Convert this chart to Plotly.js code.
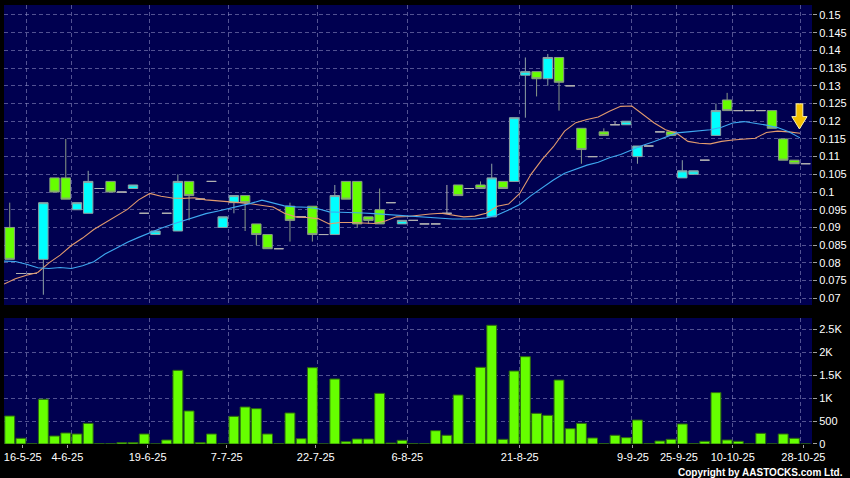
<!DOCTYPE html>
<html><head><meta charset="utf-8">
<script src="https://cdn.plot.ly/plotly-3.0.1.min.js"></script>
<style>html,body{margin:0;padding:0;background:#000;}#chart{width:850px;height:478px;}</style>
</head><body><div id="chart"></div>
<script>
// ---- data ----
const openP  = [0.090,0.077,0.077,0.081,0.104,0.104,0.095,0.094,0.101,0.103,0.100,0.101,0.094,0.088,0.094,0.089,0.103,0.098,0.103,0.090,0.097,0.099,0.091,0.088,0.084,0.096,0.093,0.096,0.088,0.088,0.103,0.103,0.093,0.095,0.097,0.091,0.092,0.091,0.091,0.094,0.102,0.101,0.102,0.093,0.103,0.103,0.133,0.134,0.132,0.138,0.130,0.118,0.110,0.117,0.119,0.119,0.110,0.113,0.117,0.117,0.104,0.105,0.109,0.116,0.126,0.123,0.123,0.123,0.123,0.115,0.109,0.108];
const highP  = [0.097,0.077,0.077,0.097,0.104,0.115,0.097,0.106,0.101,0.103,0.100,0.102,0.094,0.089,0.094,0.105,0.103,0.098,0.103,0.093,0.099,0.099,0.091,0.088,0.084,0.097,0.093,0.096,0.088,0.102,0.103,0.103,0.093,0.101,0.097,0.092,0.092,0.091,0.091,0.102,0.102,0.101,0.103,0.108,0.103,0.121,0.138,0.134,0.139,0.138,0.130,0.118,0.110,0.118,0.120,0.120,0.113,0.113,0.117,0.117,0.109,0.106,0.109,0.125,0.128,0.123,0.123,0.123,0.123,0.115,0.109,0.108];
const lowP   = [0.081,0.077,0.077,0.071,0.100,0.098,0.095,0.094,0.101,0.100,0.100,0.101,0.094,0.088,0.094,0.089,0.092,0.098,0.103,0.090,0.094,0.089,0.085,0.084,0.084,0.086,0.093,0.086,0.088,0.088,0.098,0.090,0.091,0.091,0.097,0.091,0.092,0.091,0.091,0.094,0.099,0.101,0.101,0.093,0.101,0.103,0.121,0.127,0.130,0.123,0.130,0.108,0.110,0.116,0.119,0.119,0.108,0.113,0.117,0.116,0.104,0.105,0.109,0.116,0.123,0.123,0.123,0.123,0.118,0.109,0.108,0.108];
const closeP = [0.081,0.077,0.077,0.097,0.100,0.098,0.097,0.103,0.101,0.100,0.100,0.102,0.094,0.089,0.094,0.103,0.099,0.098,0.103,0.093,0.099,0.097,0.088,0.084,0.084,0.092,0.093,0.088,0.088,0.099,0.098,0.091,0.092,0.091,0.097,0.092,0.092,0.091,0.091,0.094,0.099,0.101,0.101,0.104,0.101,0.121,0.134,0.132,0.138,0.131,0.130,0.112,0.110,0.116,0.119,0.120,0.113,0.113,0.117,0.116,0.106,0.106,0.109,0.123,0.123,0.123,0.123,0.123,0.118,0.109,0.108,0.108];
const volumeK = [610,124,3,975,174,240,218,450,4,4,30,30,218,0,87,1606,720,30,218,0,603,807,770,218,4,676,116,1664,0,1417,51,109,109,1104,20,80,4,4,290,190,1068,0,1672,2588,102,1591,1904,668,625,1395,334,450,131,4,190,138,523,4,65,102,436,4,58,1120,87,58,0,232,0,218,124,0];
const maShort = [0.0740,0.0755,0.0765,0.0773,0.0800,0.0822,0.0849,0.0870,0.0894,0.0913,0.0930,0.0951,0.0978,0.0996,0.0988,0.0983,0.0982,0.0984,0.0978,0.0976,0.0973,0.0970,0.0967,0.0963,0.0958,0.0940,0.0930,0.0928,0.0925,0.0910,0.0914,0.0914,0.0913,0.0911,0.0918,0.0930,0.0931,0.0935,0.0938,0.0940,0.0935,0.0930,0.0932,0.0940,0.0960,0.0966,0.0996,0.1050,0.1092,0.1128,0.1172,0.1196,0.1205,0.1212,0.1228,0.1242,0.1243,0.1220,0.1195,0.1176,0.1166,0.1143,0.1138,0.1136,0.1143,0.1147,0.1149,0.1152,0.1168,0.1172,0.1170,0.1166];
const maLong  = [0.0805,0.0804,0.0796,0.0786,0.0784,0.0787,0.0784,0.0792,0.0803,0.0825,0.0841,0.0858,0.0872,0.0886,0.0898,0.0909,0.0919,0.0929,0.0939,0.0946,0.0953,0.0960,0.0968,0.0977,0.0969,0.0961,0.0958,0.0957,0.0953,0.0944,0.0943,0.0943,0.0941,0.0939,0.0937,0.0935,0.0932,0.0930,0.0927,0.0925,0.0924,0.0924,0.0924,0.0927,0.0935,0.0949,0.0965,0.0990,0.1012,0.1034,0.1053,0.1065,0.1076,0.1084,0.1097,0.1106,0.1120,0.1132,0.1143,0.1156,0.1167,0.1170,0.1173,0.1176,0.1183,0.1195,0.1199,0.1195,0.1189,0.1182,0.1170,0.1153];
const dateLabels = ['16-5-25','4-6-25','19-6-25','7-7-25','22-7-25','6-8-25','21-8-25','9-9-25','25-9-25','10-10-25','28-10-25'];
const dateLabelPos = [1.16,5.14,12.3,19.36,27.3,35.47,45.5,55.6,59.7,64.5,70.8];
const dateGridPos = [1.5,5.5,12.5,19.5,27.5,35.5,45.5,55.5,59.5,64.5,70.5];
const priceTicks = [0.07,0.075,0.08,0.085,0.09,0.095,0.1,0.105,0.11,0.115,0.12,0.125,0.13,0.135,0.14,0.145,0.15];
const priceTickText = ['0.07','0.075','0.08','0.085','0.09','0.095','0.1','0.105','0.11','0.115','0.12','0.125','0.13','0.135','0.14','0.145','0.15'];
const volTicks = [0,500,1000,1500,2000,2500];
const volTickText = ['0','500','1K','1.5K','2K','2.5K'];

// ---- build traces ----
const N = openP.length;
const xs = openP.map((_, i) => i);
const maX = maShort.map((_, k) => k - 0.5);
const mv = {x:[],open:[],high:[],low:[],close:[]};
const fl = {x:[],open:[],high:[],low:[],close:[]};
for (let i = 0; i < N; i++) {
  const t = (openP[i] === closeP[i]) ? fl : mv;
  t.x.push(i); t.open.push(openP[i]); t.high.push(highP[i]); t.low.push(lowP[i]); t.close.push(closeP[i]);
}
const xRange = [-0.51, 71.57];
const gridCol = 'rgba(150,150,200,0.55)';
const white = '#ffffff';
const fontFam = 'Arial, "Liberation Sans", sans-serif';

const traces = [
  Object.assign({type:'candlestick', xaxis:'x', yaxis:'y', hoverinfo:'skip',
    increasing:{fillcolor:'#00ffff', line:{color:'#8fa3a3', width:1}},
    decreasing:{fillcolor:'#66ff00', line:{color:'#8a9a86', width:1}}}, mv),
  Object.assign({type:'candlestick', xaxis:'x', yaxis:'y', hoverinfo:'skip',
    increasing:{fillcolor:'#b0b0b0', line:{color:'#b0b0b0', width:1}},
    decreasing:{fillcolor:'#b0b0b0', line:{color:'#b0b0b0', width:1}}}, fl),
  {type:'scatter', mode:'lines', x:maX, y:maShort, xaxis:'x', yaxis:'y', line:{color:'#e39b6e', width:1.1}, hoverinfo:'skip'},
  {type:'scatter', mode:'lines', x:maX, y:maLong, xaxis:'x', yaxis:'y', line:{color:'#3fa9f0', width:1.1}, hoverinfo:'skip'},
  {type:'bar', x:xs, y:volumeK, xaxis:'x2', yaxis:'y2', marker:{color:'#66ff00', line:{color:'#2e6a10', width:1}}, hoverinfo:'skip'},
  {type:'scatter', mode:'markers', x:[0], y:[0], xaxis:'x3', yaxis:'y2', marker:{opacity:0}, hoverinfo:'skip'}
];

// arrow marker at the last candle
const arrowX = 70.45, arrowTop = 0.1249, arrowNeck = 0.1213, arrowTip = 0.1178;
const arrowPath = `M ${arrowX-0.3},${arrowTop} L ${arrowX+0.3},${arrowTop} L ${arrowX+0.3},${arrowNeck} L ${arrowX+0.68},${arrowNeck} L ${arrowX},${arrowTip} L ${arrowX-0.68},${arrowNeck} L ${arrowX-0.3},${arrowNeck} Z`;

const layout = {
  width:850, height:478,
  paper_bgcolor:'#000000', plot_bgcolor:'#000050',
  margin:{l:4, r:38, t:5, b:34},
  showlegend:false,
  boxgap:0.16, boxgroupgap:0, bargap:0.12,
  font:{family:fontFam, color:white, size:11},
  xaxis:{domain:[0,1], anchor:'y', range:xRange, tickvals:dateGridPos, showticklabels:false, ticks:'',
         showgrid:true, gridcolor:gridCol, griddash:'4px,3px', gridwidth:1, zeroline:false, rangeslider:{visible:false}, fixedrange:true},
  yaxis:{domain:[0.3166,1], anchor:'x', range:[0.0681,0.15282], side:'right', tickvals:priceTicks, ticktext:priceTickText,
         ticks:'outside', ticklen:4, tickcolor:'#a0a0a0', tickfont:{color:white, size:11, family:fontFam},
         showgrid:true, gridcolor:gridCol, griddash:'4px,3px', zeroline:false, fixedrange:true},
  xaxis2:{domain:[0,1], anchor:'y2', range:xRange, tickvals:dateGridPos, showticklabels:false, ticks:'',
         showgrid:true, gridcolor:gridCol, griddash:'4px,3px', zeroline:false, fixedrange:true},
  xaxis3:{overlaying:'x2', anchor:'y2', range:xRange, tickvals:dateLabelPos, ticktext:dateLabels,
         ticks:'outside', ticklen:3, tickcolor:'#a0a0a0', showgrid:false, zeroline:false, showline:false,
         tickfont:{color:white, size:11, family:fontFam}, fixedrange:true},
  yaxis2:{domain:[0,0.287], anchor:'x2', range:[0,2747], side:'right', tickvals:volTicks, ticktext:volTickText,
         ticks:'outside', ticklen:4, tickcolor:'#a0a0a0', tickfont:{color:white, size:11, family:fontFam},
         showgrid:true, gridcolor:gridCol, griddash:'4px,3px', zeroline:false, fixedrange:true},
  shapes:[{type:'path', xref:'x', yref:'y', path:arrowPath, fillcolor:'#f5c000', line:{color:'#fff2a8', width:1}}],
  annotations:[{xref:'paper', yref:'paper', x:1, xshift:33, y:-0.064, xanchor:'right', align:'right', yanchor:'middle', showarrow:false,
    text:'<b>Copyright by AASTOCKS.com Ltd.</b>', font:{family:fontFam, size:10, color:white}}]
};
Plotly.newPlot('chart', traces, layout, {displayModeBar:false, staticPlot:true});
</script></body></html>
